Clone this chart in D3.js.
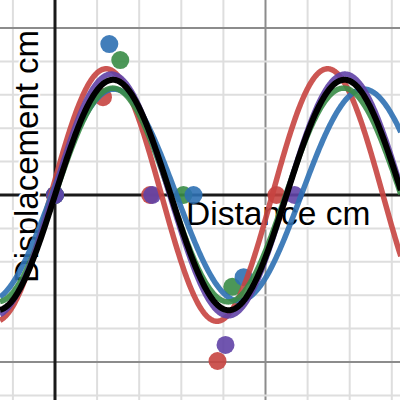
<!DOCTYPE html>
<html>
<head>
<meta charset="utf-8">
<script src="https://cdn.jsdelivr.net/npm/d3@7"></script>
<style>
  html, body { margin: 0; padding: 0; background: #fff; }
  svg { display: block; }
</style>
</head>
<body>
<div id="chart"></div>
<script>
// Measured points (Distance cm, Displacement cm)
const redPoints    = [[0, 0], [1.14, 2.93], [2.26, 0], [3.86, -4.97], [5.26, 0]];
const bluePoints   = [[0, 0], [1.29, 4.52], [3.29, 0], [4.48, -2.46]];
const greenPoints  = [[0, 0], [1.55, 4.04], [3.05, 0], [4.21, -2.75]];
const purplePoints = [[0, 0], [2.31, 0], [4.05, -4.49], [5.69, 0]];

// Fitted sine curves: amplitude, period, shift
const redFit    = [3.78, 5.26, -0.10];
const blueFit   = [3.17, 5.93, -0.08];
const greenFit  = [3.20, 5.48, 0];
const purpleFit = [3.62, 5.55, -0.05];
const blackFit  = [3.45, 5.50, 0];

const xGrid = d3.range(-1, 9);
const yGrid = d3.range(-6, 6);

const width = 400;
const height = 400;

const svg = d3.select("#chart")
  .append("svg")
  .attr("width", width)
  .attr("height", height);

const x = d3.scaleLinear()
  .domain([-55 / 42.1, 345 / 42.1])
  .range([0, width]);

const y = d3.scaleLinear()
  .domain([-205 / 33.4, 195 / 33.4])
  .range([height, 0]);

// grid
const grid = svg.append("g");
grid.selectAll(".vx")
  .data(xGrid.filter(d => d !== 0))
  .join("line")
  .attr("x1", d => x(d)).attr("x2", d => x(d))
  .attr("y1", 0).attr("y2", height)
  .attr("stroke", d => d % 5 === 0 ? "#8c8c8c" : "#dedede")
  .attr("stroke-width", 2);

grid.selectAll(".hy")
  .data(yGrid.filter(d => d !== 0))
  .join("line")
  .attr("y1", d => y(d)).attr("y2", d => y(d))
  .attr("x1", 0).attr("x2", width)
  .attr("stroke", d => d % 5 === 0 ? "#8c8c8c" : "#dedede")
  .attr("stroke-width", 2);

// axes
svg.append("line")
  .attr("x1", x(0)).attr("x2", x(0))
  .attr("y1", 0).attr("y2", height)
  .attr("stroke", "#1a1a1a").attr("stroke-width", 3);
svg.append("line")
  .attr("y1", y(0)).attr("y2", y(0))
  .attr("x1", 0).attr("x2", width)
  .attr("stroke", "#1a1a1a").attr("stroke-width", 3);

// axis labels with white halo
svg.append("text")
  .attr("x", 186)
  .attr("y", 225)
  .attr("font-family", "'Liberation Sans', Arial, sans-serif")
  .attr("font-size", "33.5px")
  .attr("fill", "#000")
  .attr("stroke", "#fff")
  .attr("stroke-width", 4)
  .attr("paint-order", "stroke")
  .text("Distance cm");

svg.append("text")
  .attr("transform", "translate(38,283) rotate(-90)")
  .attr("font-family", "'Liberation Sans', Arial, sans-serif")
  .attr("font-size", "33px")
  .attr("fill", "#000")
  .attr("stroke", "#fff")
  .attr("stroke-width", 4)
  .attr("paint-order", "stroke")
  .text("Displacement cm");

// points
const pointSets = [
  { pts: redPoints, color: "#c74440" },
  { pts: greenPoints, color: "#388c46" },
  { pts: bluePoints, color: "#2d70b3" },
  { pts: purplePoints, color: "#6042a6" }
];

pointSets.forEach(s => {
  svg.append("g")
    .selectAll("circle")
    .data(s.pts)
    .join("circle")
    .attr("cx", d => x(d[0]))
    .attr("cy", d => y(d[1]))
    .attr("r", 9)
    .attr("fill", s.color)
    .attr("fill-opacity", 0.9);
});

// curves
const xs = d3.range(x.domain()[0], x.domain()[1] + 0.02, 0.02);
const curve = d3.line().x(d => x(d[0])).y(d => y(d[1]));

const curveSets = [
  { fit: redFit, color: "#c74440", w: 5.5, op: 0.9 },
  { fit: blueFit, color: "#2d70b3", w: 5.5, op: 0.9 },
  { fit: greenFit, color: "#388c46", w: 5.5, op: 0.9 },
  { fit: purpleFit, color: "#6042a6", w: 5.5, op: 0.9 },
  { fit: blackFit, color: "#000000", w: 6, op: 1 }
];

curveSets.forEach(c => {
  const [a, p, s] = c.fit;
  const pts = xs.map(v => [v, a * Math.sin(2 * Math.PI * (v - s) / p)]);
  svg.append("path")
    .datum(pts)
    .attr("d", curve)
    .attr("fill", "none")
    .attr("stroke", c.color)
    .attr("stroke-width", c.w)
    .attr("stroke-opacity", c.op)
    .attr("stroke-linejoin", "round");
});
</script>
</body>
</html>
